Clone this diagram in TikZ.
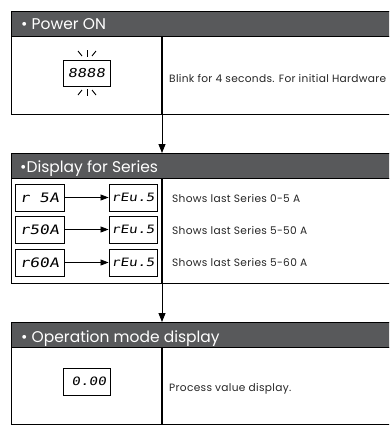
\documentclass[tikz,border=0pt]{standalone}
\usepackage{fontspec}
\setmainfont{Poppins}
\newfontfamily\bodyfont{Poppins}[LetterSpace=3]
\newfontfamily\segfont{DejaVu Sans Mono}[FakeStretch=1.25,FakeSlant=0.15]
\usetikzlibrary{arrows.meta}
\definecolor{hdr}{HTML}{58595B}
\begin{document}
\begin{tikzpicture}[x=1pt,y=-1pt,
  hdrbox/.style={fill=hdr,draw=black,line width=0.8pt,inner sep=0pt,anchor=north west,minimum width=381pt,minimum height=25pt},
  bodybox/.style={draw=black,line width=1pt,inner sep=0pt,anchor=north west,minimum width=381pt},
  hdrtext/.style={anchor=base west,text=white,font=\fontsize{15.5}{16}\selectfont,inner sep=0pt},
  bodytext/.style={anchor=base west,font=\bodyfont\fontsize{10.6}{12}\selectfont,text=black!85,inner sep=0pt},
  segbox/.style={draw=black,line width=0.9pt,minimum width=48pt,minimum height=26pt,inner sep=0pt},
  segtext/.style={inner sep=0pt,font=\segfont\fontsize{#1}{#1}\selectfont},
  divline/.style={line width=1.3pt},
  flow/.style={line width=0.8pt,-{Triangle[width=7pt,length=9pt]}},
  ray/.style={line width=0.9pt},
  small/.style={line width=0.8pt,-{Triangle[width=6pt,length=8pt]}}
]
\useasboundingbox (0,0) rectangle (389,426);
\clip (0,0) rectangle (389,426);
% ---------- Section 1 ----------
\node[hdrbox] (h1) at (11,11) {};
\node[bodybox,minimum height=78pt] (b1) at (11,36) {};
\node[hdrtext] (t1) at (21,29.5) {• Power ON};
\coordinate (d1) at (162,36);
\node[segbox,minimum width=47pt] (s1) at (86.5,73) {};
\node[segtext=12.3] (s1t) at (s1.center) {8888};
\draw[ray] (78,51) -- (82,56);
\draw[ray] (87,50) -- (87,57);
\draw[ray] (96,51) -- (92,56);
\draw[ray] (82,90) -- (78,95);
\draw[ray] (87,89) -- (87,96);
\draw[ray] (92,90) -- (96,95);
\node[bodytext] (x1) at (169,82.5) {Blink for 4 seconds. For initial Hardware};
% ---------- Section 2 ----------
\node[hdrbox] (h2) at (11,153) {};
\node[bodybox,minimum height=105pt] (b2) at (11,178) {};
\node[hdrtext] (t2) at (20,172) {•Display for Series};
\coordinate (d2) at (162,178);
\node[segbox,minimum width=49pt,minimum height=27pt] (a1) at (39.5,197.5) {};
\node[segbox,minimum width=49pt,minimum height=27pt] (a2) at (39.5,229.5) {};
\node[segbox,minimum width=49pt,minimum height=27pt] (a3) at (39.5,262.5) {};
\node[segbox,minimum width=48pt,minimum height=27pt] (r1) at (133,197.5) {};
\node[segbox,minimum width=48pt,minimum height=27pt] (r2) at (133,229.5) {};
\node[segbox,minimum width=48pt,minimum height=27pt] (r3) at (133,262.5) {};
\node[segtext=13] at (a1.center) {r 5A};
\node[segtext=13] at (a2.center) {r50A};
\node[segtext=13] at (a3.center) {r60A};
\node[segtext=11.5] at (r1.center) {rEu.5};
\node[segtext=11.5] at (r2.center) {rEu.5};
\node[segtext=11.5] at (r3.center) {rEu.5};
\draw[small] (a1) -- (r1);
\draw[small] (a2) -- (r2);
\draw[small] (a3) -- (r3);
\node[bodytext] (x2) at (172,202) {Shows last Series 0-5 A};
\node[bodytext] (x3) at (172,234) {Shows last Series 5-50 A};
\node[bodytext] (x4) at (172,266) {Shows last Series 5-60 A};
% ---------- Section 3 ----------
\node[hdrbox] (h3) at (11,322) {};
\node[bodybox,minimum height=77pt] (b3) at (11,347) {};
\node[hdrtext] (t3) at (21,342) {• Operation mode display};
\coordinate (d3) at (162,347);
\coordinate (d3e) at (162,424);
\node[segbox,minimum width=47pt,minimum height=27pt] (s3) at (86.5,381.5) {};
\node[segtext=11.5,anchor=east] at ([xshift=-4pt]s3.east) {0.00};
\node[bodytext] (x5) at (169,391) {Process value display.};
% ---------- connectors ----------
\draw[flow] (d1) -- (d1 |- h2.north);
\draw[flow] (d2) -- (d2 |- h3.north);
\draw[divline] (d3) -- (d3e);
\draw[divline] (d1) -- (162,114);
\draw[divline] (d2) -- (162,283);
\end{tikzpicture}
\end{document}
